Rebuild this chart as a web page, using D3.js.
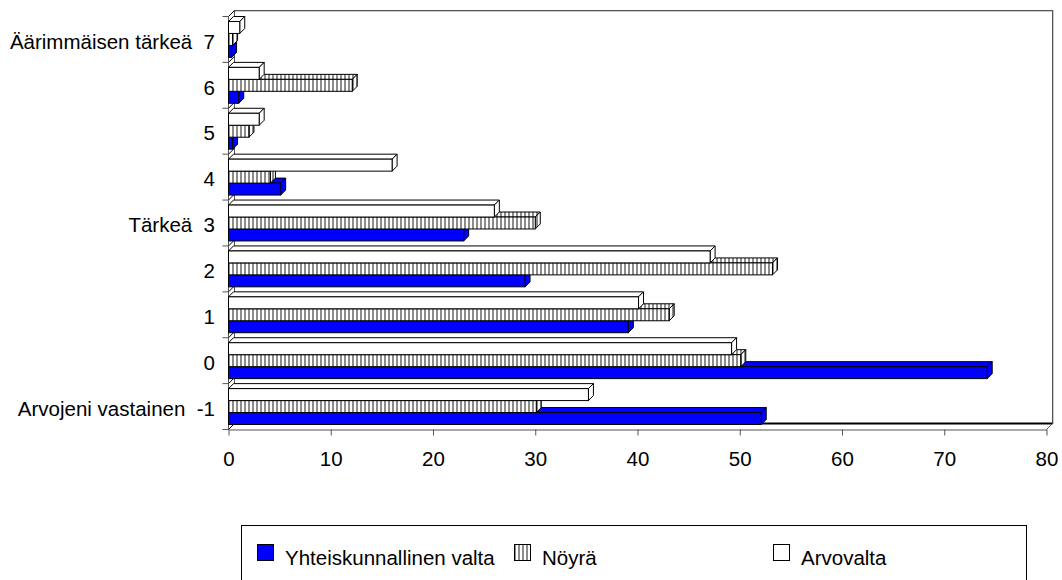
<!DOCTYPE html>
<html>
<head>
<meta charset="utf-8">
<script src="https://cdn.jsdelivr.net/npm/d3@7"></script>
<style>
  body { margin: 0; background: #fff; }
  text { font-family: "Liberation Sans", Arial, sans-serif; font-size: 20.5px; fill: #000; white-space: pre; }
</style>
</head>
<body>
<script>
// categories from bottom (-1) to top (7)
var categories = ["-1", "0", "1", "2", "3", "4", "5", "6", "7"];
var catLabels = ["Arvojeni vastainen  -1", "0", "1", "2", "Tärkeä  3", "4", "5", "6", "Äärimmäisen tärkeä  7"];
var seriesNames = ["Yhteiskunnallinen valta", "Nöyrä", "Arvovalta"];

// values per category
var valta = [52.1, 74.2, 39.1, 29.0, 23.0, 5.1, 0.4, 1.0, 0.3];
var noyra = [30.1, 50.1, 43.1, 53.2, 30.0, 4.1, 2.0, 12.1, 0.4];
var arvovalta = [35.2, 49.2, 40.1, 47.1, 26.0, 16.0, 3.0, 3.0, 1.1];

var xTicks = [0, 10, 20, 30, 40, 50, 60, 70, 80];

// dimensions
var width = 1062;
var height = 580;
var plotLeft = 228.5, plotRight = 1046.5, plotTop = 16.5, plotBottom = 429.5;
var depth = 6;      // depth of walls
var barDepth = 5;   // depth of bars

var svg = d3.select("body")
  .append("svg")
  .attr("width", width)
  .attr("height", height);

// stripe pattern for Nöyrä
var defs = svg.append("defs");
var pat = defs.append("pattern")
  .attr("id", "stripes")
  .attr("patternUnits", "userSpaceOnUse")
  .attr("width", 4)
  .attr("height", 4);
pat.append("rect").attr("width", 4).attr("height", 4).attr("fill", "#fff");
pat.append("rect").attr("width", 2).attr("height", 4).attr("fill", "#8c8c8c");

var fills = {
  "Yhteiskunnallinen valta": "#0000ff",
  "Nöyrä": "url(#stripes)",
  "Arvovalta": "#ffffff"
};

// scales
var xScale = d3.scaleLinear()
  .domain([0, 80])
  .range([plotLeft, plotRight]);

var yScale = d3.scaleBand()
  .domain(categories.slice().reverse())
  .range([plotTop, plotBottom]);

var bw = yScale.bandwidth();

// top bar is the last series
var inner = d3.scaleBand()
  .domain(seriesNames.slice().reverse())
  .range([barDepth, bw - 5]);

var wallColor = "#555";
var backX = plotLeft + depth, backY = plotTop - depth;
var backB = plotBottom - depth, backR = plotRight + depth;

// back wall edges as thin filled strips: top, right and left-back
var edges = [
  {x: backX - 0.5, y: backY - 0.5, w: backR - backX + 1, h: 1.3},
  {x: backR - 0.5, y: backY - 0.5, w: 1.3, h: backB - backY + 1},
  {x: backX - 0.5, y: backY - 0.5, w: 1, h: backB - backY + 1}
];
svg.selectAll("rect.edge")
  .data(edges)
  .enter()
  .append("rect")
  .attr("class", "edge")
  .attr("x", function(d) { return d.x; })
  .attr("y", function(d) { return d.y; })
  .attr("width", function(d) { return d.w; })
  .attr("height", function(d) { return d.h; })
  .attr("fill", wallColor);

// front edge of left wall
svg.append("line")
  .attr("x1", plotLeft).attr("x2", plotLeft)
  .attr("y1", plotTop).attr("y2", plotBottom)
  .attr("stroke", wallColor);

// floor back edge
svg.append("line")
  .attr("x1", backX).attr("x2", backR)
  .attr("y1", backB).attr("y2", backB)
  .attr("stroke", "#000")
  .attr("stroke-width", 2);

// diagonal lines on left wall and category ticks
var bounds = d3.range(categories.length + 1).map(function(i) { return plotTop + i * bw; });
svg.selectAll(".diag")
  .data(bounds)
  .enter()
  .append("line")
  .attr("class", "diag")
  .attr("x1", plotLeft).attr("y1", function(d) { return d; })
  .attr("x2", plotLeft + depth).attr("y2", function(d) { return d - depth; })
  .attr("stroke", "#000");

svg.selectAll(".ytick")
  .data(bounds)
  .enter()
  .append("line")
  .attr("class", "ytick")
  .attr("x1", plotLeft - 6).attr("x2", plotLeft)
  .attr("y1", function(d) { return d; })
  .attr("y2", function(d) { return d; })
  .attr("stroke", wallColor);

// floor right diagonal
svg.append("line")
  .attr("x1", plotRight).attr("y1", plotBottom)
  .attr("x2", backR).attr("y2", backB)
  .attr("stroke", wallColor);

// x axis
var xAxis = d3.axisBottom(xScale)
  .tickValues(xTicks)
  .tickSize(6)
  .tickPadding(16)
  .tickSizeOuter(0);

var gx = svg.append("g")
  .attr("transform", "translate(0," + plotBottom + ")")
  .call(xAxis);
gx.select(".domain").attr("stroke", wallColor);
gx.selectAll(".tick line").attr("stroke", wallColor);
gx.selectAll(".tick text")
  .style("font-family", "'Liberation Sans', Arial, sans-serif")
  .style("font-size", "20.5px")
  .attr("fill", "#000");

// category labels
svg.selectAll(".ylabel")
  .data(categories)
  .enter()
  .append("text")
  .attr("class", "ylabel")
  .attr("x", 215)
  .attr("y", function(d) { return yScale(d) + bw / 2 + 2; })
  .attr("dy", "0.35em")
  .attr("text-anchor", "end")
  .text(function(d, i) { return catLabels[i]; });

// build bar data
var bars = [];
categories.forEach(function(c, i) {
  bars.push({cat: c, name: seriesNames[0], value: valta[i]});
  bars.push({cat: c, name: seriesNames[1], value: noyra[i]});
  bars.push({cat: c, name: seriesNames[2], value: arvovalta[i]});
});

// draw bars, lowest ones first so upper bars cover their top faces
var h = inner.bandwidth();
var barG = svg.selectAll(".bar")
  .data(bars)
  .enter()
  .append("g")
  .attr("class", "bar");

barG.each(function(d) {
  var g = d3.select(this);
  var x0 = xScale(0);
  var x1 = xScale(d.value);
  var y0 = yScale(d.cat) + inner(d.name);
  var dd = barDepth;
  var stroke = "#000";

  // top face
  g.append("path")
    .attr("d", "M" + [x0, y0] + "L" + [x0 + dd, y0 - dd] + "L" + [x1 + dd, y0 - dd] + "L" + [x1, y0] + "Z")
    .attr("fill", fills[d.name])
    .attr("stroke", stroke);

  // side face
  g.append("path")
    .attr("d", "M" + [x1, y0] + "L" + [x1 + dd, y0 - dd] + "L" + [x1 + dd, y0 + h - dd] + "L" + [x1, y0 + h] + "Z")
    .attr("fill", fills[d.name])
    .attr("stroke", stroke);

  // front face
  g.append("rect")
    .attr("x", x0)
    .attr("y", y0)
    .attr("width", x1 - x0)
    .attr("height", h)
    .attr("fill", fills[d.name])
    .attr("stroke", stroke);
});

// legend
var legend = svg.append("g");
legend.append("rect")
  .attr("x", 241.5)
  .attr("y", 525.5)
  .attr("width", 785)
  .attr("height", 70)
  .attr("fill", "#fff")
  .attr("stroke", "#000");

var legendX = [257, 514, 773];
var item = legend.selectAll(".item")
  .data(seriesNames)
  .enter()
  .append("g")
  .attr("class", "item")
  .attr("transform", function(d, i) { return "translate(" + legendX[i] + ",544)"; });

item.append("rect")
  .attr("x", 0.5)
  .attr("y", 0.5)
  .attr("width", 16)
  .attr("height", 16)
  .attr("fill", function(d) { return fills[d]; })
  .attr("stroke", "#000");

item.append("text")
  .attr("x", 28)
  .attr("y", 21)
  .text(function(d) { return d; });
</script>
</body>
</html>
